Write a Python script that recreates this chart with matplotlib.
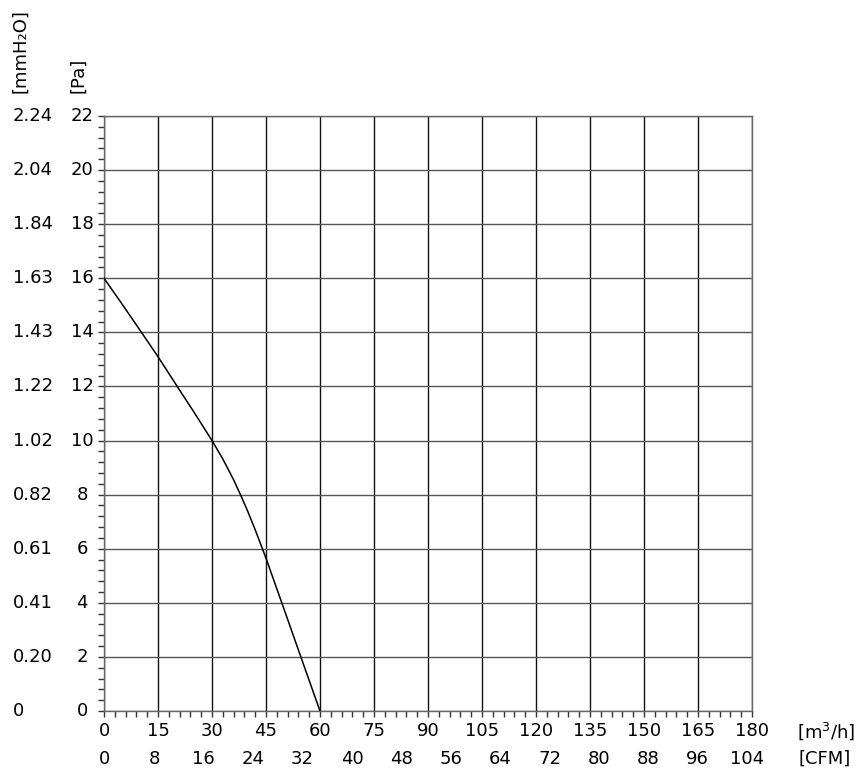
import matplotlib
matplotlib.use("Agg")
import matplotlib.pyplot as plt
from matplotlib.ticker import MultipleLocator

# Data
flow_m3h = [0, 5, 10, 15, 20, 25, 30, 33, 36, 38, 40, 42, 44, 45, 50, 55, 60]
pressure_pa = [16, 15.05, 14.08, 13.1, 12.07, 11.05, 10.0, 9.32, 8.55, 7.97, 7.36, 6.7, 6.0, 5.65, 3.77, 1.88, 0]

x_ticks = [0, 15, 30, 45, 60, 75, 90, 105, 120, 135, 150, 165, 180]
cfm_ticks = [0, 8, 16, 24, 32, 40, 48, 56, 64, 72, 80, 88, 96, 104]
cfm_to_m3h = 1.715
y_ticks = [0, 2, 4, 6, 8, 10, 12, 14, 16, 18, 20, 22]
mmh2o_labels = ["0", "0.20", "0.41", "0.61", "0.82", "1.02", "1.22", "1.43", "1.63", "1.84", "2.04", "2.24"]

W, H = 866, 775
fig = plt.figure(figsize=(W / 100, H / 100), dpi=100)
L, R, T, B = 104, 752, 116, 711
ax = fig.add_axes([L / W, 1 - B / H, (R - L) / W, (B - T) / H])

fs = 13
ax.plot(flow_m3h, pressure_pa, color="black", lw=1.1, zorder=3)
ax.set_xlim(0, 180)
ax.set_ylim(0, 22)
ax.set_xticks(x_ticks)
ax.set_yticks(y_ticks)
ax.xaxis.set_minor_locator(MultipleLocator(3))
ax.yaxis.set_minor_locator(MultipleLocator(0.4))
ax.grid(True, which="major", axis="x", color="#111111", lw=1.0)
ax.grid(True, which="major", axis="y", color="#555555", lw=1.0)
for s in ax.spines.values():
    s.set_color("#666666")
    s.set_linewidth(1.0)
ax.tick_params(which="both", direction="out", length=4.5, width=1, color="#333333")
ax.set_xticklabels([])
ax.set_yticklabels([])

x2px = lambda v: L + (R - L) * v / 180
y2px = lambda v: B - (B - T) * v / 22

def px(xp, yp):
    return xp / W, 1 - yp / H

# Pa labels
for v in y_ticks:
    fig.text(*px(82, y2px(v)), str(v), ha="center", va="center", fontsize=fs)
# mmH2O labels
for v, lab in zip(y_ticks, mmh2o_labels):
    fig.text(*px(13, y2px(v)), lab, ha="left", va="center", fontsize=fs)
# x labels
for v in x_ticks:
    fig.text(*px(x2px(v), 731), str(v), ha="center", va="center", fontsize=fs)
for c in cfm_ticks:
    fig.text(*px(x2px(c * cfm_to_m3h) + 1, 759), str(c), ha="center", va="center", fontsize=fs)

fig.text(*px(826, 731), "[m$^3$/h]", ha="center", va="center", fontsize=fs)
fig.text(*px(825, 759), "[CFM]", ha="center", va="center", fontsize=fs)
fig.text(*px(20, 93), "[mmH₂O]", ha="center", va="bottom", rotation=90, fontsize=fs)
fig.text(*px(78, 93), "[Pa]", ha="center", va="bottom", rotation=90, fontsize=fs)

fig.savefig("out.png", dpi=100)
